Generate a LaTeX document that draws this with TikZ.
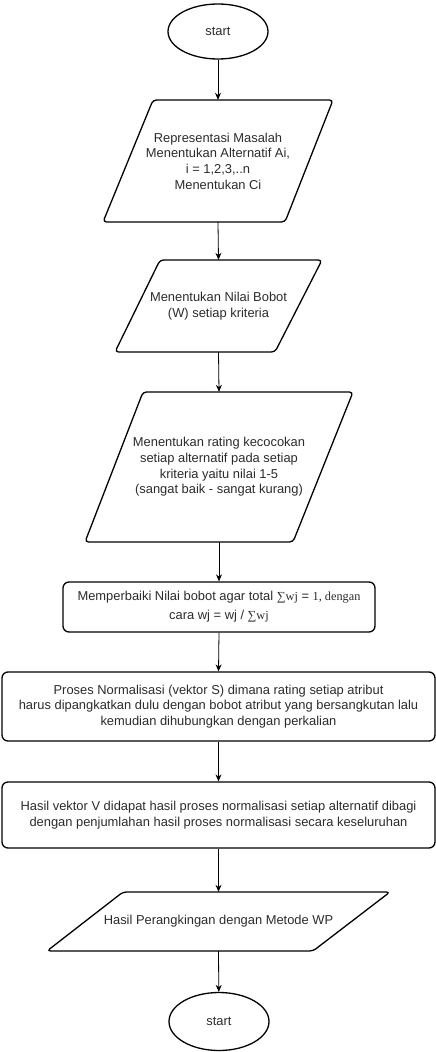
\documentclass[tikz,border=0pt]{standalone}
\usepackage{fontspec}
\setmainfont{Liberation Sans}
\newfontfamily\serifpart{Liberation Serif}
\usetikzlibrary{shapes.geometric,arrows.meta}
\definecolor{txtc}{HTML}{2B2B2B}
\tikzset{
  every node/.style={font=\fontsize{12.9}{15.7}\selectfont, text=txtc, align=center, inner sep=0pt},
  shp/.style={draw=black, line width=1.3pt, line join=round},
  para/.style={shp, rounded corners=3.5pt},
  term/.style={shp, ellipse, minimum width=100pt, minimum height=55pt},
  box/.style={shp, rounded corners=6pt},
  conn/.style={draw=black, line width=0.8pt, -{Stealth[length=7pt,width=6pt]}}
}
\newcommand{\sr}[1]{{\serifpart\fontsize{12.3}{15}\selectfont #1}}
\begin{document}
\begin{tikzpicture}[x=1pt,y=-1pt]
\useasboundingbox (0,0) rectangle (436,1052);
% start
\node[term] (e1) at (218,31.5) {start};
% p1
\draw[para] (153,100) -- (333,100) -- (285,222) -- (103,222) -- cycle;
\node[minimum width=230pt, minimum height=122pt] (p1) at (218,161)
  {Representasi Masalah\\Menentukan Alternatif Ai,\\i = 1,2,3,..n\\Menentukan Ci};
% p2
\draw[para] (160,260) -- (322,260) -- (275,352) -- (115,352) -- cycle;
\node[minimum width=207pt, minimum height=92pt] (p2) at (218.5,306)
  {Menentukan Nilai Bobot\\(W) setiap kriteria};
% p3
\draw[para] (143,392) -- (353,392) -- (293,542) -- (85,542) -- cycle;
\node[minimum width=268pt, minimum height=150pt] (p3) at (219,467)
  {Menentukan rating kecocokan\\setiap alternatif pada setiap\\kriteria yaitu nilai 1-5\\(sangat baik - sangat kurang)};
% r1
\node[box, minimum width=312pt, minimum height=50pt, font=\fontsize{12.9}{19}\selectfont] (r1) at (219,607)
  {Memperbaiki Nilai bobot agar total \sr{∑wj} = \sr{1, dengan}\\cara wj = wj / \sr{∑wj}};
% r2
\node[box, minimum width=433pt, minimum height=69pt] (r2) at (218.5,706.5)
  {Proses Normalisasi (vektor S) dimana rating setiap atribut\\harus dipangkatkan dulu dengan bobot atribut yang bersangkutan lalu\\kemudian dihubungkan dengan perkalian};
% r3
\node[box, minimum width=433pt, minimum height=66pt] (r3) at (218.5,815)
  {Hasil vektor V didapat hasil proses normalisasi setiap alternatif dibagi\\dengan penjumlahan hasil proses normalisasi secara keseluruhan};
% p4
\draw[para] (123,892) -- (390,892) -- (313,951) -- (47,951) -- cycle;
\node[minimum width=343pt, minimum height=59pt] (p4) at (218.5,921.5)
  {Hasil Perangkingan dengan Metode WP};
% end
\node[term, minimum height=58pt] (e2) at (219,1021.5) {start};
% connectors
\draw[conn] (e1) -- (p1.north);
\draw[conn] (p1.south) -- (p2.north);
\draw[conn] (p2.south) -- (p3.north);
\draw[conn] (p3.south) -- (r1.north);
\draw[conn] (r1.south) -- (r2.north);
\draw[conn] (r2.south) -- (r3.north);
\draw[conn] (r3.south) -- (p4.north);
\draw[conn] (p4.south) -- (e2);
\end{tikzpicture}
\end{document}
